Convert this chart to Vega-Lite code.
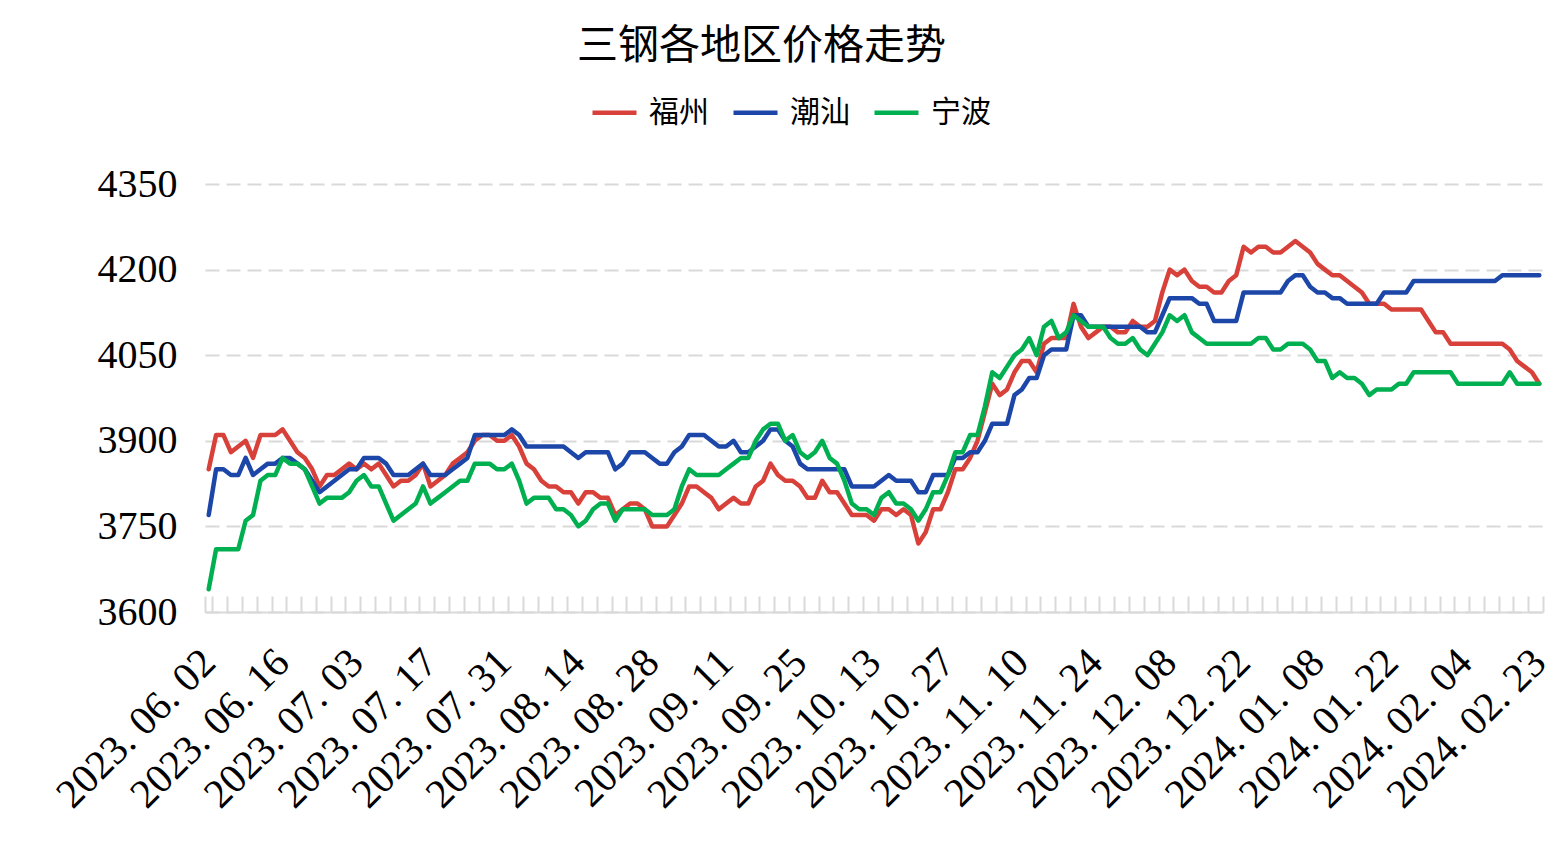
{
  "$schema": "https://vega.github.io/schema/vega-lite/v6.json",
  "width": 1338,
  "height": 428,
  "padding": {"left": 5, "top": 26, "right": 20, "bottom": 5},
  "background": "white",
  "title": {
    "text": "三钢各地区价格走势",
    "anchor": "start",
    "dx": 572,
    "font": "Noto Sans CJK SC",
    "fontSize": 41,
    "fontWeight": "normal",
    "color": "#000000",
    "offset": 20
  },
  "data": {
    "values": [
      {"d": "2023.06.02", "福州": 3850, "潮汕": 3770, "宁波": 3640},
      {"d": "2023.06.05", "福州": 3910, "潮汕": 3850, "宁波": 3710},
      {"d": "2023.06.06", "福州": 3910, "潮汕": 3850, "宁波": 3710},
      {"d": "2023.06.07", "福州": 3880, "潮汕": 3840, "宁波": 3710},
      {"d": "2023.06.08", "福州": 3890, "潮汕": 3840, "宁波": 3710},
      {"d": "2023.06.09", "福州": 3900, "潮汕": 3870, "宁波": 3760},
      {"d": "2023.06.12", "福州": 3870, "潮汕": 3840, "宁波": 3770},
      {"d": "2023.06.13", "福州": 3910, "潮汕": 3850, "宁波": 3830},
      {"d": "2023.06.14", "福州": 3910, "潮汕": 3860, "宁波": 3840},
      {"d": "2023.06.15", "福州": 3910, "潮汕": 3860, "宁波": 3840},
      {"d": "2023.06.16", "福州": 3920, "潮汕": 3870, "宁波": 3870},
      {"d": "2023.06.19", "福州": 3900, "潮汕": 3870, "宁波": 3860},
      {"d": "2023.06.20", "福州": 3880, "潮汕": 3860, "宁波": 3860},
      {"d": "2023.06.21", "福州": 3870, "潮汕": 3850, "宁波": 3850},
      {"d": "2023.06.25", "福州": 3850, "潮汕": 3830, "宁波": 3820},
      {"d": "2023.06.26", "福州": 3820, "潮汕": 3810, "宁波": 3790},
      {"d": "2023.06.27", "福州": 3840, "潮汕": 3820, "宁波": 3800},
      {"d": "2023.06.28", "福州": 3840, "潮汕": 3830, "宁波": 3800},
      {"d": "2023.06.29", "福州": 3850, "潮汕": 3840, "宁波": 3800},
      {"d": "2023.06.30", "福州": 3860, "潮汕": 3850, "宁波": 3810},
      {"d": "2023.07.03", "福州": 3850, "潮汕": 3850, "宁波": 3830},
      {"d": "2023.07.04", "福州": 3860, "潮汕": 3870, "宁波": 3840},
      {"d": "2023.07.05", "福州": 3850, "潮汕": 3870, "宁波": 3820},
      {"d": "2023.07.06", "福州": 3860, "潮汕": 3870, "宁波": 3820},
      {"d": "2023.07.07", "福州": 3840, "潮汕": 3860, "宁波": 3790},
      {"d": "2023.07.10", "福州": 3820, "潮汕": 3840, "宁波": 3760},
      {"d": "2023.07.11", "福州": 3830, "潮汕": 3840, "宁波": 3770},
      {"d": "2023.07.12", "福州": 3830, "潮汕": 3840, "宁波": 3780},
      {"d": "2023.07.13", "福州": 3840, "潮汕": 3850, "宁波": 3790},
      {"d": "2023.07.14", "福州": 3860, "潮汕": 3860, "宁波": 3820},
      {"d": "2023.07.17", "福州": 3820, "潮汕": 3840, "宁波": 3790},
      {"d": "2023.07.18", "福州": 3830, "潮汕": 3840, "宁波": 3800},
      {"d": "2023.07.19", "福州": 3840, "潮汕": 3840, "宁波": 3810},
      {"d": "2023.07.20", "福州": 3860, "潮汕": 3850, "宁波": 3820},
      {"d": "2023.07.21", "福州": 3870, "潮汕": 3860, "宁波": 3830},
      {"d": "2023.07.24", "福州": 3880, "潮汕": 3870, "宁波": 3830},
      {"d": "2023.07.25", "福州": 3900, "潮汕": 3910, "宁波": 3860},
      {"d": "2023.07.26", "福州": 3910, "潮汕": 3910, "宁波": 3860},
      {"d": "2023.07.27", "福州": 3910, "潮汕": 3910, "宁波": 3860},
      {"d": "2023.07.28", "福州": 3900, "潮汕": 3910, "宁波": 3850},
      {"d": "2023.07.31", "福州": 3900, "潮汕": 3910, "宁波": 3850},
      {"d": "2023.08.01", "福州": 3910, "潮汕": 3920, "宁波": 3860},
      {"d": "2023.08.02", "福州": 3890, "潮汕": 3910, "宁波": 3830},
      {"d": "2023.08.03", "福州": 3860, "潮汕": 3890, "宁波": 3790},
      {"d": "2023.08.04", "福州": 3850, "潮汕": 3890, "宁波": 3800},
      {"d": "2023.08.07", "福州": 3830, "潮汕": 3890, "宁波": 3800},
      {"d": "2023.08.08", "福州": 3820, "潮汕": 3890, "宁波": 3800},
      {"d": "2023.08.09", "福州": 3820, "潮汕": 3890, "宁波": 3780},
      {"d": "2023.08.10", "福州": 3810, "潮汕": 3890, "宁波": 3780},
      {"d": "2023.08.11", "福州": 3810, "潮汕": 3880, "宁波": 3770},
      {"d": "2023.08.14", "福州": 3790, "潮汕": 3870, "宁波": 3750},
      {"d": "2023.08.15", "福州": 3810, "潮汕": 3880, "宁波": 3760},
      {"d": "2023.08.16", "福州": 3810, "潮汕": 3880, "宁波": 3780},
      {"d": "2023.08.17", "福州": 3800, "潮汕": 3880, "宁波": 3790},
      {"d": "2023.08.18", "福州": 3800, "潮汕": 3880, "宁波": 3790},
      {"d": "2023.08.21", "福州": 3770, "潮汕": 3850, "宁波": 3760},
      {"d": "2023.08.22", "福州": 3780, "潮汕": 3860, "宁波": 3780},
      {"d": "2023.08.23", "福州": 3790, "潮汕": 3880, "宁波": 3780},
      {"d": "2023.08.24", "福州": 3790, "潮汕": 3880, "宁波": 3780},
      {"d": "2023.08.25", "福州": 3780, "潮汕": 3880, "宁波": 3780},
      {"d": "2023.08.28", "福州": 3750, "潮汕": 3870, "宁波": 3770},
      {"d": "2023.08.29", "福州": 3750, "潮汕": 3860, "宁波": 3770},
      {"d": "2023.08.30", "福州": 3750, "潮汕": 3860, "宁波": 3770},
      {"d": "2023.08.31", "福州": 3770, "潮汕": 3880, "宁波": 3780},
      {"d": "2023.09.01", "福州": 3790, "潮汕": 3890, "宁波": 3820},
      {"d": "2023.09.04", "福州": 3820, "潮汕": 3910, "宁波": 3850},
      {"d": "2023.09.05", "福州": 3820, "潮汕": 3910, "宁波": 3840},
      {"d": "2023.09.06", "福州": 3810, "潮汕": 3910, "宁波": 3840},
      {"d": "2023.09.07", "福州": 3800, "潮汕": 3900, "宁波": 3840},
      {"d": "2023.09.08", "福州": 3780, "潮汕": 3890, "宁波": 3840},
      {"d": "2023.09.11", "福州": 3790, "潮汕": 3890, "宁波": 3850},
      {"d": "2023.09.12", "福州": 3800, "潮汕": 3900, "宁波": 3860},
      {"d": "2023.09.13", "福州": 3790, "潮汕": 3880, "宁波": 3870},
      {"d": "2023.09.14", "福州": 3790, "潮汕": 3880, "宁波": 3870},
      {"d": "2023.09.15", "福州": 3820, "潮汕": 3890, "宁波": 3900},
      {"d": "2023.09.18", "福州": 3830, "潮汕": 3900, "宁波": 3920},
      {"d": "2023.09.19", "福州": 3860, "潮汕": 3920, "宁波": 3930},
      {"d": "2023.09.20", "福州": 3840, "潮汕": 3920, "宁波": 3930},
      {"d": "2023.09.21", "福州": 3830, "潮汕": 3900, "宁波": 3900},
      {"d": "2023.09.22", "福州": 3830, "潮汕": 3890, "宁波": 3910},
      {"d": "2023.09.25", "福州": 3820, "潮汕": 3860, "宁波": 3880},
      {"d": "2023.09.26", "福州": 3800, "潮汕": 3850, "宁波": 3870},
      {"d": "2023.09.27", "福州": 3800, "潮汕": 3850, "宁波": 3880},
      {"d": "2023.09.28", "福州": 3830, "潮汕": 3850, "宁波": 3900},
      {"d": "2023.10.07", "福州": 3810, "潮汕": 3850, "宁波": 3870},
      {"d": "2023.10.08", "福州": 3810, "潮汕": 3850, "宁波": 3860},
      {"d": "2023.10.09", "福州": 3790, "潮汕": 3850, "宁波": 3830},
      {"d": "2023.10.10", "福州": 3770, "潮汕": 3820, "宁波": 3790},
      {"d": "2023.10.11", "福州": 3770, "潮汕": 3820, "宁波": 3780},
      {"d": "2023.10.12", "福州": 3770, "潮汕": 3820, "宁波": 3780},
      {"d": "2023.10.13", "福州": 3760, "潮汕": 3820, "宁波": 3770},
      {"d": "2023.10.16", "福州": 3780, "潮汕": 3830, "宁波": 3800},
      {"d": "2023.10.17", "福州": 3780, "潮汕": 3840, "宁波": 3810},
      {"d": "2023.10.18", "福州": 3770, "潮汕": 3830, "宁波": 3790},
      {"d": "2023.10.19", "福州": 3780, "潮汕": 3830, "宁波": 3790},
      {"d": "2023.10.20", "福州": 3770, "潮汕": 3830, "宁波": 3780},
      {"d": "2023.10.23", "福州": 3720, "潮汕": 3810, "宁波": 3760},
      {"d": "2023.10.24", "福州": 3740, "潮汕": 3810, "宁波": 3780},
      {"d": "2023.10.25", "福州": 3780, "潮汕": 3840, "宁波": 3810},
      {"d": "2023.10.26", "福州": 3780, "潮汕": 3840, "宁波": 3810},
      {"d": "2023.10.27", "福州": 3810, "潮汕": 3840, "宁波": 3840},
      {"d": "2023.10.30", "福州": 3850, "潮汕": 3870, "宁波": 3880},
      {"d": "2023.10.31", "福州": 3850, "潮汕": 3870, "宁波": 3880},
      {"d": "2023.11.01", "福州": 3870, "潮汕": 3880, "宁波": 3910},
      {"d": "2023.11.02", "福州": 3900, "潮汕": 3880, "宁波": 3910},
      {"d": "2023.11.03", "福州": 3950, "潮汕": 3900, "宁波": 3960},
      {"d": "2023.11.06", "福州": 4000, "潮汕": 3930, "宁波": 4020},
      {"d": "2023.11.07", "福州": 3980, "潮汕": 3930, "宁波": 4010},
      {"d": "2023.11.08", "福州": 3990, "潮汕": 3930, "宁波": 4030},
      {"d": "2023.11.09", "福州": 4020, "潮汕": 3980, "宁波": 4050},
      {"d": "2023.11.10", "福州": 4040, "潮汕": 3990, "宁波": 4060},
      {"d": "2023.11.13", "福州": 4040, "潮汕": 4010, "宁波": 4080},
      {"d": "2023.11.14", "福州": 4020, "潮汕": 4010, "宁波": 4050},
      {"d": "2023.11.15", "福州": 4070, "潮汕": 4050, "宁波": 4100},
      {"d": "2023.11.16", "福州": 4080, "潮汕": 4060, "宁波": 4110},
      {"d": "2023.11.17", "福州": 4080, "潮汕": 4060, "宁波": 4080},
      {"d": "2023.11.20", "福州": 4080, "潮汕": 4060, "宁波": 4090},
      {"d": "2023.11.21", "福州": 4140, "潮汕": 4120, "宁波": 4120},
      {"d": "2023.11.22", "福州": 4100, "潮汕": 4120, "宁波": 4110},
      {"d": "2023.11.23", "福州": 4080, "潮汕": 4100, "宁波": 4100},
      {"d": "2023.11.24", "福州": 4090, "潮汕": 4100, "宁波": 4100},
      {"d": "2023.11.27", "福州": 4100, "潮汕": 4100, "宁波": 4100},
      {"d": "2023.11.28", "福州": 4100, "潮汕": 4100, "宁波": 4080},
      {"d": "2023.11.29", "福州": 4090, "潮汕": 4100, "宁波": 4070},
      {"d": "2023.11.30", "福州": 4090, "潮汕": 4100, "宁波": 4070},
      {"d": "2023.12.01", "福州": 4110, "潮汕": 4100, "宁波": 4080},
      {"d": "2023.12.04", "福州": 4100, "潮汕": 4100, "宁波": 4060},
      {"d": "2023.12.05", "福州": 4100, "潮汕": 4090, "宁波": 4050},
      {"d": "2023.12.06", "福州": 4110, "潮汕": 4090, "宁波": 4070},
      {"d": "2023.12.07", "福州": 4160, "潮汕": 4120, "宁波": 4090},
      {"d": "2023.12.08", "福州": 4200, "潮汕": 4150, "宁波": 4120},
      {"d": "2023.12.11", "福州": 4190, "潮汕": 4150, "宁波": 4110},
      {"d": "2023.12.12", "福州": 4200, "潮汕": 4150, "宁波": 4120},
      {"d": "2023.12.13", "福州": 4180, "潮汕": 4150, "宁波": 4090},
      {"d": "2023.12.14", "福州": 4170, "潮汕": 4140, "宁波": 4080},
      {"d": "2023.12.15", "福州": 4170, "潮汕": 4140, "宁波": 4070},
      {"d": "2023.12.18", "福州": 4160, "潮汕": 4110, "宁波": 4070},
      {"d": "2023.12.19", "福州": 4160, "潮汕": 4110, "宁波": 4070},
      {"d": "2023.12.20", "福州": 4180, "潮汕": 4110, "宁波": 4070},
      {"d": "2023.12.21", "福州": 4190, "潮汕": 4110, "宁波": 4070},
      {"d": "2023.12.22", "福州": 4240, "潮汕": 4160, "宁波": 4070},
      {"d": "2023.12.25", "福州": 4230, "潮汕": 4160, "宁波": 4070},
      {"d": "2023.12.26", "福州": 4240, "潮汕": 4160, "宁波": 4080},
      {"d": "2023.12.27", "福州": 4240, "潮汕": 4160, "宁波": 4080},
      {"d": "2023.12.28", "福州": 4230, "潮汕": 4160, "宁波": 4060},
      {"d": "2023.12.29", "福州": 4230, "潮汕": 4160, "宁波": 4060},
      {"d": "2024.01.02", "福州": 4240, "潮汕": 4180, "宁波": 4070},
      {"d": "2024.01.03", "福州": 4250, "潮汕": 4190, "宁波": 4070},
      {"d": "2024.01.04", "福州": 4240, "潮汕": 4190, "宁波": 4070},
      {"d": "2024.01.05", "福州": 4230, "潮汕": 4170, "宁波": 4060},
      {"d": "2024.01.08", "福州": 4210, "潮汕": 4160, "宁波": 4040},
      {"d": "2024.01.09", "福州": 4200, "潮汕": 4160, "宁波": 4040},
      {"d": "2024.01.10", "福州": 4190, "潮汕": 4150, "宁波": 4010},
      {"d": "2024.01.11", "福州": 4190, "潮汕": 4150, "宁波": 4020},
      {"d": "2024.01.12", "福州": 4180, "潮汕": 4140, "宁波": 4010},
      {"d": "2024.01.15", "福州": 4170, "潮汕": 4140, "宁波": 4010},
      {"d": "2024.01.16", "福州": 4160, "潮汕": 4140, "宁波": 4000},
      {"d": "2024.01.17", "福州": 4140, "潮汕": 4140, "宁波": 3980},
      {"d": "2024.01.18", "福州": 4140, "潮汕": 4140, "宁波": 3990},
      {"d": "2024.01.19", "福州": 4140, "潮汕": 4160, "宁波": 3990},
      {"d": "2024.01.22", "福州": 4130, "潮汕": 4160, "宁波": 3990},
      {"d": "2024.01.23", "福州": 4130, "潮汕": 4160, "宁波": 4000},
      {"d": "2024.01.24", "福州": 4130, "潮汕": 4160, "宁波": 4000},
      {"d": "2024.01.25", "福州": 4130, "潮汕": 4180, "宁波": 4020},
      {"d": "2024.01.26", "福州": 4130, "潮汕": 4180, "宁波": 4020},
      {"d": "2024.01.29", "福州": 4110, "潮汕": 4180, "宁波": 4020},
      {"d": "2024.01.30", "福州": 4090, "潮汕": 4180, "宁波": 4020},
      {"d": "2024.01.31", "福州": 4090, "潮汕": 4180, "宁波": 4020},
      {"d": "2024.02.01", "福州": 4070, "潮汕": 4180, "宁波": 4020},
      {"d": "2024.02.02", "福州": 4070, "潮汕": 4180, "宁波": 4000},
      {"d": "2024.02.04", "福州": 4070, "潮汕": 4180, "宁波": 4000},
      {"d": "2024.02.05", "福州": 4070, "潮汕": 4180, "宁波": 4000},
      {"d": "2024.02.06", "福州": 4070, "潮汕": 4180, "宁波": 4000},
      {"d": "2024.02.07", "福州": 4070, "潮汕": 4180, "宁波": 4000},
      {"d": "2024.02.08", "福州": 4070, "潮汕": 4180, "宁波": 4000},
      {"d": "2024.02.18", "福州": 4070, "潮汕": 4190, "宁波": 4000},
      {"d": "2024.02.19", "福州": 4060, "潮汕": 4190, "宁波": 4020},
      {"d": "2024.02.20", "福州": 4040, "潮汕": 4190, "宁波": 4000},
      {"d": "2024.02.21", "福州": 4030, "潮汕": 4190, "宁波": 4000},
      {"d": "2024.02.22", "福州": 4020, "潮汕": 4190, "宁波": 4000},
      {"d": "2024.02.23", "福州": 4000, "潮汕": 4190, "宁波": 4000}
    ]
  },
  "transform": [{"fold": ["福州", "潮汕", "宁波"], "as": ["region", "price"]}],
  "mark": {"type": "line", "strokeWidth": 4.5, "strokeJoin": "round", "strokeCap": "round"},
  "encoding": {
    "x": {
      "field": "d",
      "type": "ordinal",
      "sort": null,
      "scale": {"type": "band", "paddingInner": 0, "paddingOuter": 0},
      "axis": {
        "title": null,
        "values": ["2023.06.02", "2023.06.06", "2023.06.08", "2023.06.12", "2023.06.14", "2023.06.16", "2023.06.20", "2023.06.25", "2023.06.27", "2023.06.29",
                   "2023.07.03", "2023.07.05", "2023.07.07", "2023.07.11", "2023.07.13", "2023.07.17", "2023.07.19", "2023.07.21", "2023.07.25", "2023.07.27",
                   "2023.07.31", "2023.08.02", "2023.08.04", "2023.08.08", "2023.08.10", "2023.08.14", "2023.08.16", "2023.08.18", "2023.08.22", "2023.08.24",
                   "2023.08.28", "2023.08.30", "2023.09.01", "2023.09.05", "2023.09.07", "2023.09.11", "2023.09.13", "2023.09.15", "2023.09.19", "2023.09.21",
                   "2023.09.25", "2023.09.27", "2023.10.07", "2023.10.09", "2023.10.11", "2023.10.13", "2023.10.17", "2023.10.19", "2023.10.23", "2023.10.25",
                   "2023.10.27", "2023.10.31", "2023.11.02", "2023.11.06", "2023.11.08", "2023.11.10", "2023.11.14", "2023.11.16", "2023.11.20", "2023.11.22",
                   "2023.11.24", "2023.11.28", "2023.11.30", "2023.12.04", "2023.12.06", "2023.12.08", "2023.12.12", "2023.12.14", "2023.12.18", "2023.12.20",
                   "2023.12.22", "2023.12.26", "2023.12.28", "2024.01.02", "2024.01.04", "2024.01.08", "2024.01.10", "2024.01.12", "2024.01.16", "2024.01.18",
                   "2024.01.22", "2024.01.24", "2024.01.26", "2024.01.30", "2024.02.01", "2024.02.04", "2024.02.06", "2024.02.08", "2024.02.19", "2024.02.21",
                   "2024.02.23"],
        "labelExpr": "indexof(['2023.06.02','2023.06.16','2023.07.03','2023.07.17','2023.07.31','2023.08.14','2023.08.28','2023.09.11','2023.09.25','2023.10.13','2023.10.27','2023.11.10','2023.11.24','2023.12.08','2023.12.22','2024.01.08','2024.01.22','2024.02.04','2024.02.23'], datum.value) >= 0 ? join(split(datum.value, '.'), '. ') : ''",
        "tickBand": "extent",
        "tickSize": -16,
        "tickColor": "#d9d9d9",
        "tickWidth": 2,
        "domainColor": "#d9d9d9",
        "domainWidth": 2,
        "labelAngle": -45,
        "labelAlign": "right",
        "labelBaseline": "middle",
        "labelFont": "Liberation Serif",
        "labelFontSize": 41,
        "labelColor": "#000000",
        "labelPadding": 60,
        "labelLimit": 0,
        "labelOverlap": false
      }
    },
    "y": {
      "field": "price",
      "type": "quantitative",
      "scale": {"domain": [3600, 4350], "nice": false, "zero": false},
      "axis": {
        "title": null,
        "values": [3600, 3750, 3900, 4050, 4200, 4350],
        "format": "d",
        "domain": false,
        "ticks": false,
        "labelFont": "Liberation Serif",
        "labelFontSize": 40,
        "labelColor": "#000000",
        "labelPadding": 28,
        "minExtent": 200,
        "maxExtent": 200,
        "gridColor": "#d9d9d9",
        "gridWidth": 2,
        "gridDash": [14, 7]
      }
    },
    "color": {
      "field": "region",
      "type": "nominal",
      "scale": {"domain": ["福州", "潮汕", "宁波"], "range": ["#d8403a", "#1c47a8", "#00b050"]},
      "legend": {
        "title": null,
        "orient": "none",
        "direction": "horizontal",
        "legendX": 385,
        "legendY": -96,
        "padding": 0,
        "symbolType": "stroke",
        "symbolSize": 1936,
        "symbolStrokeWidth": 4.5,
        "labelFont": "Noto Sans CJK SC",
        "labelFontSize": 30,
        "labelColor": "#000000",
        "labelOffset": 10,
        "columnPadding": 15
      }
    }
  },
  "config": {"view": {"stroke": null}}
}
